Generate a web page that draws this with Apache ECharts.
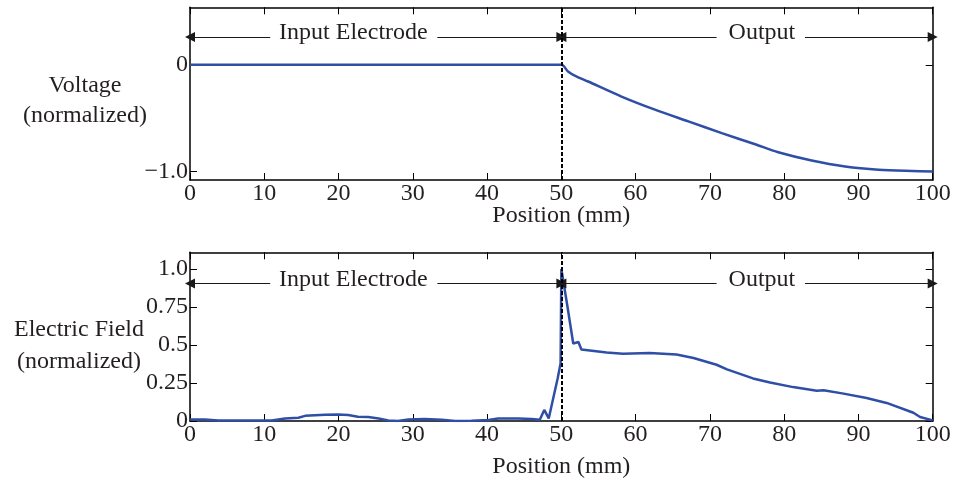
<!DOCTYPE html>
<html>
<head>
<meta charset="utf-8">
<script src="https://cdn.jsdelivr.net/npm/echarts@6/dist/echarts.min.js"></script>
<style>
  html, body { margin: 0; padding: 0; background: #fff; }
  #chart { width: 956px; height: 480px; }
</style>
</head>
<body>
<div id="chart"></div>
<script>
// Position along the device (mm)
const xTickInterval = 10;

// Normalized voltage profile
const voltX = [0, 10, 20, 30, 40, 50, 50.9, 51.8, 53.6, 58.1, 62.6, 67.1, 71.6, 76.1, 79.2, 83.7, 88.2, 92.7, 97.2, 100];
const voltY = [0, 0, 0, 0, 0, 0, -0.062, -0.10, -0.156, -0.297, -0.42, -0.53, -0.64, -0.745, -0.82, -0.897, -0.953, -0.984, -0.996, -1.0];

// Normalized electric field profile
const fieldX = [0, 2.0, 3.8, 9.65, 11.0, 12.8, 14.6, 15.5, 18.2, 20.0, 21.3, 22.6, 24.0, 25.4, 26.7, 28.0, 29.4, 31.6, 33.9, 35.7, 37.9, 40.2, 41.5, 44.2, 46.0, 47.1, 47.7, 48.3, 49.5, 49.9, 50.0, 50.8, 51.6, 52.3, 52.7, 56.1, 58.3, 61.9, 65.5, 67.8, 70.9, 72.3, 75.8, 78.1, 81.2, 84.4, 85.3, 88.0, 91.1, 93.8, 97.4, 98.3, 100];
const fieldY = [0.01, 0.01, 0.004, 0.004, 0.004, 0.017, 0.021, 0.034, 0.041, 0.043, 0.039, 0.028, 0.026, 0.017, 0.004, 0, 0.01, 0.013, 0.008, 0, 0.002, 0.006, 0.017, 0.017, 0.013, 0.008, 0.073, 0.017, 0.28, 0.38, 1.0, 0.76, 0.51, 0.52, 0.47, 0.45, 0.443, 0.448, 0.437, 0.415, 0.37, 0.34, 0.28, 0.253, 0.223, 0.199, 0.203, 0.18, 0.151, 0.119, 0.054, 0.026, 0.004];

// Y tick values and their labels
const voltTicks = [-1, 0];
const voltTickLabels = ['−1.0', '0'];
const fieldTicks = [0, 0.25, 0.5, 0.75, 1.0];
const fieldTickLabels = ['0', '0.25', '0.5', '0.75', '1.0'];

// Region annotations
const boundaryX = 50;
const regionNames = ['Input Electrode', 'Output'];
const regionCenters = [22.0, 77.0];
// [arrow start, text gap start, text gap end, arrow end] per region
const regionSpans = [[0, 10.8, 33.3, 50], [50, 70.9, 82.8, 100]];
const voltArrowY = 0.262;
const fieldArrowY = 0.904;

const FONT = '"Liberation Serif", "Times New Roman", serif';
const INK = '#231f20';
const LINE = '#2f4ea6';

function pairs(xs, ys) { return xs.map((x, i) => [x, ys[i]]); }

function annotations(y) {
  const lines = [];
  regionSpans.forEach(s => {
    lines.push([{ coord: [s[0], y], symbol: 'triangle' }, { coord: [s[1], y], symbol: 'none' }]);
    lines.push([{ coord: [s[2], y], symbol: 'none' }, { coord: [s[3], y], symbol: 'triangle' }]);
  });
  lines.push({ xAxis: boundaryX,
    lineStyle: { color: '#000', width: 2, type: [4, 2] } });
  return {
    markLine: {
      silent: true, animation: false, symbol: 'none', symbolSize: 10,
      label: { show: false },
      lineStyle: { color: '#1a1a1a', width: 1, type: 'solid' },
      emphasis: { disabled: true },
      data: lines
    },
    markPoint: {
      silent: true, animation: false,
      symbol: 'circle', symbolSize: 1,
      itemStyle: { color: 'rgba(0,0,0,0)' },
      label: { show: true, position: 'inside', offset: [0, -4],
        fontFamily: FONT, fontSize: 24, color: INK, formatter: p => p.name },
      data: regionNames.map((n, i) => ({ name: n, coord: [regionCenters[i], y] }))
    }
  };
}

function xAxisPair(gridIndex, nameGap) {
  const common = {
    type: 'value', gridIndex, min: 0, max: 100, interval: xTickInterval,
    splitLine: { show: false },
    axisLine: { show: true, onZero: false, lineStyle: { color: '#000', width: 1.5 } },
    axisTick: { show: true, inside: true, length: 7, lineStyle: { color: '#000', width: 1 } }
  };
  return [
    Object.assign({}, common, {
      position: 'bottom',
      name: 'Position (mm)', nameLocation: 'middle', nameGap, nameMoveOverlap: false,
      nameTextStyle: { fontFamily: FONT, fontSize: 24, color: INK },
      axisLabel: { show: true, margin: 2, fontFamily: FONT, fontSize: 24, color: INK }
    }),
    Object.assign({}, common, { position: 'top', axisLabel: { show: false } })
  ];
}

function yAxisPair(gridIndex, min, max, ticks, labels) {
  const common = {
    type: 'value', gridIndex, min, max,
    splitLine: { show: false },
    axisLine: { show: true, onZero: false, lineStyle: { color: '#000', width: 1.5 } },
    axisTick: { show: true, inside: true, length: 7, customValues: ticks,
      lineStyle: { color: '#000', width: 1 } }
  };
  return [
    Object.assign({}, common, {
      position: 'left',
      axisLabel: { show: true, margin: 2, customValues: ticks,
        fontFamily: FONT, fontSize: 24, color: INK,
        formatter: v => labels[ticks.findIndex(t => Math.abs(t - v) < 1e-9)] }
    }),
    Object.assign({}, common, { position: 'right', axisLabel: { show: false } })
  ];
}

const chart = echarts.init(document.getElementById('chart'), null, { renderer: 'canvas' });

chart.setOption({
  animation: false,
  backgroundColor: '#fff',
  grid: [
    { left: 190, top: 7.3, width: 742.7, height: 172.7, containLabel: false },
    { left: 190, top: 252.3, width: 742.7, height: 171, containLabel: false }
  ],
  xAxis: [...xAxisPair(0, 24), ...xAxisPair(1, 34)],
  yAxis: [
    ...yAxisPair(0, -1.08, 0.54, voltTicks, voltTickLabels),
    ...yAxisPair(1, 0, 1.11, fieldTicks, fieldTickLabels)
  ],
  graphic: [
    { type: 'text', x: 85, y: 101, silent: true,
      style: { text: 'Voltage\n(normalized)', align: 'center', verticalAlign: 'middle',
        font: '24px ' + FONT, fill: INK, lineHeight: 30 } },
    { type: 'text', x: 79, y: 346, silent: true,
      style: { text: 'Electric Field\n(normalized)', align: 'center', verticalAlign: 'middle',
        font: '24px ' + FONT, fill: INK, lineHeight: 32 } }
  ],
  series: [
    Object.assign({
      type: 'line', xAxisIndex: 0, yAxisIndex: 0,
      data: pairs(voltX, voltY), smooth: 0.3, showSymbol: false,
      lineStyle: { color: LINE, width: 2.5 }, silent: true
    }, annotations(voltArrowY)),
    Object.assign({
      type: 'line', xAxisIndex: 2, yAxisIndex: 2,
      data: pairs(fieldX, fieldY), smooth: false, showSymbol: false,
      lineStyle: { color: LINE, width: 2.5 }, silent: true
    }, annotations(fieldArrowY))
  ]
});
</script>
</body>
</html>
